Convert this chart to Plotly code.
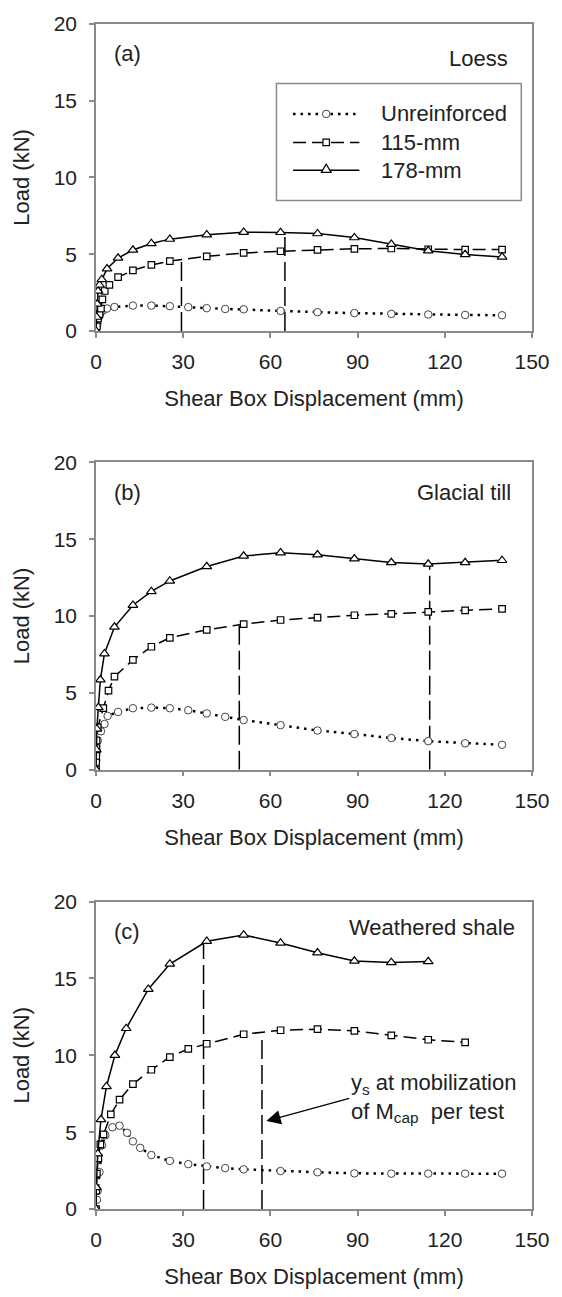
import plotly.graph_objects as go

# ---------------- data ----------------
# Panel (a) Loess
a_unr_x = [0, 0.5, 1.0, 1.5, 2.5, 3.8, 6.35, 12.7, 19.05, 25.4, 31.75, 38.1, 44.45, 50.8, 63.5, 76.2, 88.9, 101.6, 114.3, 127, 139.7]
a_unr_y = [0, 0.45, 0.9, 1.15, 1.35, 1.46, 1.56, 1.65, 1.65, 1.61, 1.55, 1.48, 1.43, 1.41, 1.3, 1.22, 1.16, 1.11, 1.07, 1.04, 1.02]
a_115_x = [0, 0.3, 0.7, 1.2, 1.7, 2.2, 3.0, 4.6, 7.6, 12.7, 19.05, 25.4, 38.1, 50.8, 63.5, 76.2, 88.9, 101.6, 114.3, 127, 139.7]
a_115_y = [0, 0.3, 0.8, 1.1, 1.45, 2.05, 2.6, 3.0, 3.5, 3.95, 4.3, 4.55, 4.86, 5.08, 5.19, 5.28, 5.35, 5.37, 5.32, 5.3, 5.3]
a_178_x = [0, 0.2, 0.4, 0.7, 1.2, 2.0, 3.8, 7.6, 12.7, 19.05, 25.4, 38.1, 50.8, 63.5, 76.2, 88.9, 101.6, 114.3, 127, 139.7]
a_178_y = [0, 0.9, 1.75, 2.6, 3.0, 3.35, 4.05, 4.75, 5.27, 5.7, 5.98, 6.27, 6.43, 6.42, 6.34, 6.08, 5.65, 5.22, 4.98, 4.82]
a_ys_x = [29.4, 65.0]
a_ys_top = [4.65, 6.42]

# Panel (b) Glacial till
b_unr_x = [0, 0.1, 0.3, 0.6, 1.7, 2.9, 4.0, 7.6, 12.7, 19.05, 25.4, 31.75, 38.1, 44.45, 50.8, 63.5, 76.2, 88.9, 101.6, 114.3, 127, 139.7]
b_unr_y = [0, 0.6, 1.2, 1.9, 2.5, 2.97, 3.5, 3.76, 4.0, 4.04, 4.0, 3.87, 3.66, 3.44, 3.23, 2.9, 2.55, 2.32, 2.06, 1.86, 1.72, 1.62]
b_115_x = [0, 0.05, 0.1, 0.15, 0.2, 0.6, 2.5, 4.3, 6.35, 12.7, 19.05, 25.4, 38.1, 50.8, 63.5, 76.2, 88.9, 101.6, 114.3, 127, 139.7]
b_115_y = [0, 0.5, 0.9, 1.4, 1.9, 2.75, 4.0, 5.15, 6.05, 7.15, 8.0, 8.58, 9.1, 9.47, 9.74, 9.89, 10.05, 10.14, 10.27, 10.37, 10.47]
b_178_x = [0, 0.1, 0.3, 0.8, 1.5, 2.9, 6.35, 12.7, 19.05, 25.4, 38.1, 50.8, 63.5, 76.2, 88.9, 101.6, 114.3, 127, 139.7]
b_178_y = [0, 1.3, 2.65, 4.05, 5.85, 7.55, 9.28, 10.7, 11.6, 12.28, 13.22, 13.9, 14.12, 13.98, 13.72, 13.48, 13.38, 13.48, 13.62]
b_ys_x = [49.3, 114.8]
b_ys_top = [9.43, 13.38]

# Panel (c) Weathered shale
c_unr_x = [0, 0.3, 0.6, 1.2, 2.1, 3.2, 5.65, 8.1, 10.7, 12.7, 15.2, 19.05, 25.4, 31.75, 38.1, 44.45, 50.8, 63.5, 76.2, 88.9, 101.6, 114.3, 127, 139.7]
c_unr_y = [0, 0.6, 1.2, 2.4, 4.15, 4.79, 5.32, 5.42, 4.96, 4.4, 3.98, 3.51, 3.13, 2.92, 2.77, 2.66, 2.58, 2.47, 2.39, 2.32, 2.3, 2.3, 2.3, 2.3]
c_115_x = [0, 0.1, 0.3, 0.8, 1.5, 2.6, 5.1, 8.1, 12.7, 19.05, 25.4, 31.75, 38.1, 50.8, 63.5, 76.2, 88.9, 101.6, 114.3, 127]
c_115_y = [0, 1.2, 2.3, 3.3, 4.2, 4.85, 6.15, 7.12, 8.13, 9.06, 9.88, 10.42, 10.75, 11.37, 11.63, 11.7, 11.59, 11.29, 11.01, 10.84]
c_178_x = [0, 0.1, 0.6, 1.7, 3.6, 6.5, 10.4, 18.0, 25.4, 38.1, 50.8, 63.5, 76.2, 88.9, 101.6, 114.3]
c_178_y = [0, 1.4, 3.6, 5.82, 7.97, 10.0, 11.75, 14.3, 15.94, 17.42, 17.83, 17.31, 16.67, 16.13, 16.04, 16.1]
c_ys_x = [37.0, 57.1]
c_ys_top = [17.3, 11.35]

x_ticks = [0, 30, 60, 90, 120, 150]
y_ticks = [0, 5, 10, 15, 20]
series_names = ["Unreinforced", "115-mm", "178-mm"]
panel_labels = ["(a)", "(b)", "(c)"]
soil_names = ["Loess", "Glacial till", "Weathered shale"]
x_title = "Shear Box Displacement (mm)"
y_title = "Load (kN)"
note_text = "y<sub>s</sub> at mobilization<br>of M<sub>cap</sub>  per test"

# ---------------- styling ----------------
FONT = "Liberation Sans, Arial, sans-serif"
TXT = "#222222"
W, H = 562, 1297
ML, MR, MT, MB = 96, 19, 14, 88
PW, PH = W - ML - MR, H - MT - MB
FRAME = "#8a8a8a"


def ydom(top_px, bot_px):
    return [(H - MB - bot_px) / PH, (H - MB - top_px) / PH]


panel_px = [(14, 323.5), (456, 766), (899, 1209)]

styles = {
    "Unreinforced": dict(line=dict(color="black", width=2.5, dash="2.5px,5px"),
                         marker=dict(symbol="circle", size=7.5, color="white",
                                     line=dict(color="#444444", width=1))),
    "115-mm": dict(line=dict(color="black", width=1.5, dash="13px,6px"),
                   marker=dict(symbol="square", size=6.5, color="white",
                               line=dict(color="black", width=1.2))),
    "178-mm": dict(line=dict(color="black", width=1.5),
                   marker=dict(symbol="triangle-up", size=8.5, color="white",
                               line=dict(color="black", width=1.2))),
}

panels = [
    ((a_unr_x, a_unr_y), (a_115_x, a_115_y), (a_178_x, a_178_y), (a_ys_x, a_ys_top)),
    ((b_unr_x, b_unr_y), (b_115_x, b_115_y), (b_178_x, b_178_y), (b_ys_x, b_ys_top)),
    ((c_unr_x, c_unr_y), (c_115_x, c_115_y), (c_178_x, c_178_y), (c_ys_x, c_ys_top)),
]

fig = go.Figure()
layout = dict(
    width=W, height=H,
    margin=dict(l=ML, r=MR, t=MT, b=MB, pad=0),
    paper_bgcolor="white", plot_bgcolor="white",
    font=dict(family=FONT, size=21, color=TXT),
    showlegend=False,
)

annotations = []
shapes = []

for i, (unr, s115, s178, ys) in enumerate(panels):
    k = "" if i == 0 else str(i + 1)
    xa, ya = "x" + k, "y" + k
    # vertical dashed lines at ys (mobilization displacement)
    for xv, top in zip(ys[0], ys[1]):
        fig.add_trace(go.Scatter(x=[xv, xv], y=[0, top], mode="lines", xaxis=xa, yaxis=ya,
                                 line=dict(color="black", width=1.5, dash="19px,6px"),
                                 hoverinfo="skip", showlegend=False))
    for name, (xs, yv) in zip(series_names, [unr, s115, s178]):
        fig.add_trace(go.Scatter(x=xs, y=yv, mode="lines+markers", name=name,
                                 xaxis=xa, yaxis=ya, showlegend=False, **styles[name]))
    top, bot = panel_px[i]
    axis_common = dict(showline=True, linecolor=FRAME, linewidth=1.5, mirror=True,
                       showgrid=False, zeroline=False, ticks="outside", ticklen=5,
                       tickcolor=FRAME, tickwidth=1.5,
                       tickfont=dict(family=FONT, size=21, color=TXT))
    layout["xaxis" + k] = dict(domain=[0, 1], anchor=ya, range=[0, 150],
                               tickvals=x_ticks, ticktext=[str(t) for t in x_ticks],
                               ticklabelstandoff=6,
                               title=dict(text=x_title, standoff=19,
                                          font=dict(family=FONT, size=22, color=TXT)),
                               **axis_common)
    layout["yaxis" + k] = dict(domain=ydom(top, bot), anchor=xa, range=[0, 20],
                               tickvals=y_ticks, ticktext=[str(t) for t in y_ticks],
                               ticklabelstandoff=8,
                               title=dict(text=y_title, standoff=18,
                                          font=dict(family=FONT, size=22, color=TXT)),
                               **axis_common)
    annotations.append(dict(text=panel_labels[i], xref=xa + " domain", yref=ya + " domain",
                            x=0.037, y=1 - 30 / 309.5, xanchor="left", yanchor="middle",
                            showarrow=False, font=dict(family=FONT, size=22, color=TXT)))

# soil names
soil_pos = [(0.9485, 1 - 35 / 309.5), (0.9575, 1 - 30.5 / 309.5), (0.9664, 1 - 25.7 / 309.5)]
for i, (nm, (sx, sy)) in enumerate(zip(soil_names, soil_pos)):
    k = "" if i == 0 else str(i + 1)
    annotations.append(dict(text=nm, xref="x" + k + " domain", yref="y" + k + " domain",
                            x=sx, y=sy, xanchor="right", yanchor="middle", showarrow=False,
                            font=dict(family=FONT, size=22, color=TXT)))

# note with arrow in panel (c): text box anchored at arrow tail, arrow to the ys line
annotations.append(dict(text=note_text, xref="x3", yref="y3", x=58.6, y=5.72,
                        axref="x3", ayref="y3", ax=87.1, ay=7.2,
                        xanchor="left", yanchor="middle", align="left",
                        showarrow=True, arrowhead=2, arrowsize=2.2, arrowwidth=1.3,
                        arrowcolor="black", standoff=0,
                        font=dict(family=FONT, size=22, color=TXT)))

# ---------------- custom legend inside panel (a), in axis-domain coordinates ----------------
LEG_X0, LEG_X1, LEG_Y0, LEG_Y1 = 0.4139, 0.9754, 0.4249, 0.8061
LEG_ROWS = [0.7069, 0.6142, 0.5234]
SAMPLE_X0, SAMPLE_X1, SAMPLE_XM, LEG_TEXT_X = 0.4519, 0.6040, 0.528, 0.6499

shapes.append(dict(type="rect", xref="x domain", yref="y domain",
                   x0=LEG_X0, x1=LEG_X1, y0=LEG_Y0, y1=LEG_Y1,
                   line=dict(color=FRAME, width=1.5), fillcolor="white", layer="below"))

tri_r = 8.5 / 2
tri_rt, tri_r2, tri_rs = tri_r * 2 / 3 ** 0.5, tri_r / 2, tri_r * 2 ** 0.5
marker_shapes = {
    "Unreinforced": dict(type="circle", x0=-3.75, x1=3.75, y0=-3.75, y1=3.75,
                         line=dict(color="#444444", width=1)),
    "115-mm": dict(type="rect", x0=-3.25, x1=3.25, y0=-3.25, y1=3.25,
                   line=dict(color="black", width=1.2)),
    "178-mm": dict(type="path",
                   path=f"M{-tri_rt:.2f},{-tri_r2:.2f} L{tri_rt:.2f},{-tri_r2:.2f} L0,{tri_rs:.2f} Z",
                   line=dict(color="black", width=1.2)),
}

for name, ry in zip(series_names, LEG_ROWS):
    st = styles[name]
    shapes.append(dict(type="line", xref="x domain", yref="y domain",
                       x0=SAMPLE_X0, x1=SAMPLE_X1, y0=ry, y1=ry,
                       line=dict(color="black", width=st["line"]["width"],
                                 dash=st["line"].get("dash", "solid"))))
    ms = dict(marker_shapes[name])
    ms.update(xref="x domain", yref="y domain", xsizemode="pixel", ysizemode="pixel",
              xanchor=SAMPLE_XM, yanchor=ry, fillcolor="white")
    shapes.append(ms)
    annotations.append(dict(text=name, xref="x domain", yref="y domain", x=LEG_TEXT_X, y=ry,
                            xanchor="left", yanchor="middle", showarrow=False,
                            font=dict(family=FONT, size=22, color=TXT)))

layout["annotations"] = annotations
layout["shapes"] = shapes
fig.update_layout(**layout)
fig.write_html("out.html")
